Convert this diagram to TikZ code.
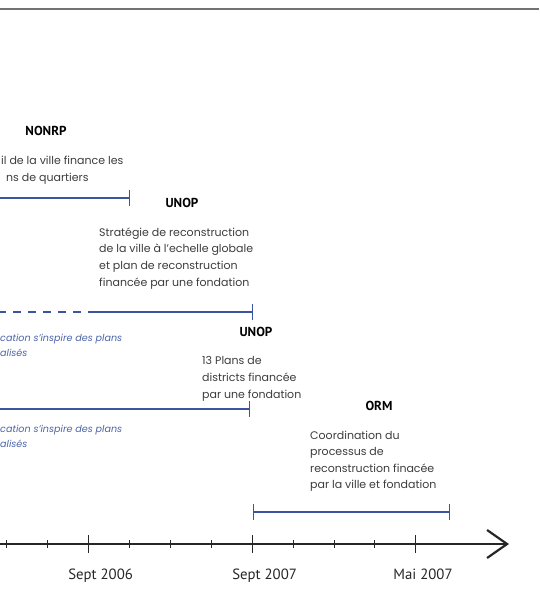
\documentclass[tikz,border=0pt]{standalone}
\usepackage{fontspec}
\setmainfont{Poppins}
\newfontfamily\labelfont{PT Sans}
\usetikzlibrary{positioning, arrows.meta}
\definecolor{spanblue}{HTML}{3D55A0}
\definecolor{noteblue}{HTML}{4A63A8}
\definecolor{desctext}{HTML}{3C3C3C}

\begin{document}
\begin{tikzpicture}[x=1pt, y=-1pt, inner sep=0pt,
    org/.style={font=\labelfont\bfseries\fontsize{13}{15}\selectfont, text=black},
    desc/.style={anchor=north west, align=left, text=desctext, font=\fontsize{11}{16.6}\selectfont},
    note/.style={anchor=north west, align=left, text=noteblue, font=\itshape\fontsize{9.6}{15.2}\selectfont},
    span/.style={spanblue, line width=1.1pt},
    datelabel/.style={font=\labelfont\fontsize{14.8}{17}\selectfont, text=black!85}]
      \useasboundingbox (0,0) rectangle (539,592);
      \draw[black!55, line width=1.6pt] (0,8.7) -- (539,8.7);

      \node[org] (nonrp) at (46,131) {NONRP};
      \node[desc] (nonrpText) at (1,156) {il de la ville finance les\\\hspace*{5pt}ns de quartiers};
      \coordinate (nonrpStart) at (0,198);
      \coordinate (nonrpEnd) at (130,198);

      \node[org] (unopA) at (182,203) {UNOP};
      \node[desc] (unopAText) at (99,227.5) {Stratégie de reconstruction\\de la ville à l’echelle globale\\et plan de reconstruction\\financée par une fondation};
      \coordinate (dashStart) at (-2,312);
      \coordinate (dashEnd) at (83,312);
      \coordinate (unopAStart) at (88,312);
      \coordinate (unopAEnd) at (253,312);
      \node[note] (noteA) at (0,334) {cation s’inspire des plans\\alisés};

      \node[org] (unopB) at (256,332) {UNOP};
      \node[desc] (unopBText) at (202,356.5) {13 Plans de\\districts financée\\par une fondation};
      \coordinate (unopBStart) at (0,409);
      \coordinate (unopBEnd) at (250,409);
      \node[note] (noteB) at (0,425) {cation s’inspire des plans\\alisés};

      \node[org] (orm) at (379,406) {ORM};
      \node[desc] (ormText) at (310,430.5) {Coordination du\\processus de\\reconstruction finacée\\par la ville et fondation};
      \coordinate (ormStart) at (253,512);
      \coordinate (ormEnd) at (450,512);

      \draw[span, dash pattern=on 8pt off 7pt] (dashStart) -- (dashEnd);
      \draw[span, -{Bar[width=16pt]}] (unopAStart) -- (unopAEnd);
      \draw[span, -{Bar[width=16pt]}] (nonrpStart) -- (nonrpEnd);
      \draw[span, -{Bar[width=16pt]}] (unopBStart) -- (unopBEnd);
      \draw[span, {Bar[width=16pt]}-{Bar[width=16pt]}] (ormStart) -- (ormEnd);

      \coordinate (axisStart) at (0,544);
      \coordinate (axisEnd) at (509,544);
      \draw[black!85, line width=2.2pt, -{Straight Barb[length=20pt, width=28pt]}] (axisStart) -- (axisEnd);
      \foreach \i in {0,...,10} {
        \pgfmathsetmacro{\tx}{6.8+40.9*\i}
        \ifnum\i=2 \draw[black!85, line width=1pt] (\tx,535) -- (\tx,553);
        \else\ifnum\i=6 \draw[black!85, line width=1pt] (\tx,535) -- (\tx,553);
        \else\ifnum\i=10 \draw[black!85, line width=1pt] (\tx,535) -- (\tx,553);
        \else \draw[black!85, line width=1pt] (\tx,540) -- (\tx,548);
        \fi\fi\fi
      }
      \node[datelabel] (sept06) at (100.6,576) {Sept 2006};
      \node[datelabel] (sept07) at (264.6,576) {Sept 2007};
      \node[datelabel] (mai07) at (423,574) {Mai 2007};
    \end{tikzpicture}
\end{document}
